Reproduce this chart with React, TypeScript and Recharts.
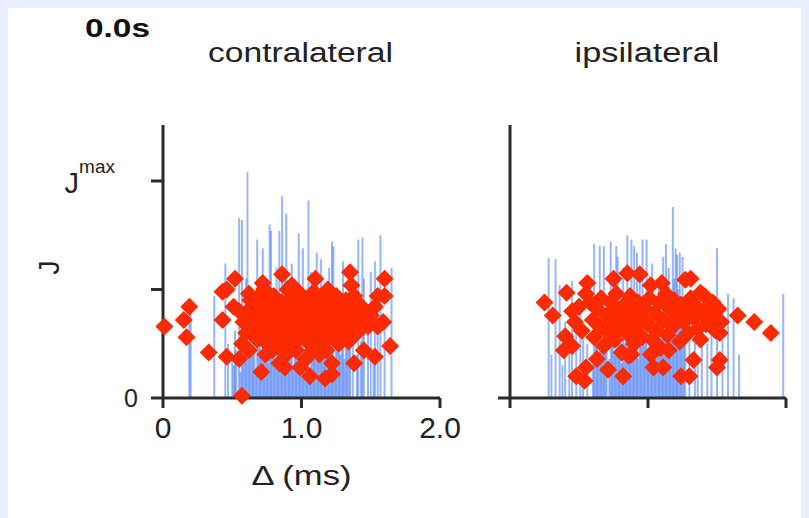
import React from "react";
import { ScatterChart, Scatter, XAxis, YAxis, ErrorBar } from "recharts";

// contralateral: thin blue lines (position, height) and red diamonds
const contraLineX = [
  0.19, 0.2, 0.37, 0.45, 0.47, 0.5, 0.52, 0.55, 0.57, 0.58, 0.6, 0.61, 0.63, 0.65, 0.66, 0.68,
  0.7, 0.72, 0.74, 0.77, 0.78, 0.8, 0.82, 0.84, 0.86, 0.88, 0.89, 0.91, 0.93, 0.95, 0.98, 1.0,
  1.01, 1.03, 1.05, 1.07, 1.09, 1.11, 1.13, 1.14, 1.16, 1.18, 1.2, 1.22, 1.23, 1.25, 1.27, 1.3,
  1.32, 1.34, 1.37, 1.41, 1.44, 1.45, 1.48, 1.5, 1.53, 1.55, 1.57, 1.6, 1.65,
  0.51, 0.53, 0.56, 0.59, 0.62, 0.64, 0.67, 0.69, 0.71, 0.73, 0.75, 0.76, 0.79, 0.81, 0.83, 0.85,
  0.87, 0.9, 0.92, 0.94, 0.96, 0.97, 0.99, 1.02, 1.04, 1.06, 1.08, 1.1, 1.12, 1.15, 1.17, 1.19,
  1.21, 1.24, 1.26, 1.28, 1.29, 1.31, 1.33, 1.35, 1.4, 1.43, 1.52,
];
const contraLineH = [
  0.4, 0.43, 0.47, 0.62, 0.25, 0.2, 0.31, 0.83, 0.82, 0.4, 0.55, 1.04, 0.35, 0.48, 0.28, 0.73,
  0.52, 0.69, 0.38, 0.8, 0.77, 0.45, 0.6, 0.77, 0.93, 0.55, 0.85, 0.33, 0.62, 0.42, 0.76, 0.5,
  0.69, 0.36, 0.91, 0.58, 0.45, 0.67, 0.4, 0.64, 0.52, 0.3, 0.6, 0.72, 0.7, 0.48, 0.35, 0.63,
  0.44, 0.56, 0.4, 0.73, 0.74, 0.55, 0.3, 0.58, 0.63, 0.45, 0.75, 0.35, 0.6,
  0.15, 0.22, 0.12, 0.28, 0.18, 0.24, 0.14, 0.3, 0.2, 0.26, 0.16, 0.33, 0.22, 0.18, 0.29, 0.12,
  0.25, 0.2, 0.3, 0.15, 0.27, 0.21, 0.34, 0.19, 0.28, 0.14, 0.24, 0.31, 0.17, 0.26, 0.2, 0.35,
  0.22, 0.15, 0.28, 0.2, 0.32, 0.18, 0.25, 0.3, 0.2, 0.26, 0.22,
];
const contraDotX = [
  0.01, 0.15, 0.19, 0.17, 0.33, 0.43, 0.46, 0.43, 0.52, 0.51, 0.46, 0.55, 0.57, 0.71, 0.72, 0.73,
  0.86, 0.93, 1.1, 1.35, 1.36, 1.38, 1.6, 1.6, 1.55, 1.53, 1.59, 1.55, 1.64, 1.53, 1.45, 1.38,
  1.22, 1.17, 1.22, 1.18, 1.06, 0.99, 0.88, 0.84, 0.79, 0.62, 0.63,
  0.55, 0.58, 0.6, 0.57, 0.62, 0.64, 0.66, 0.67, 0.68, 0.7, 0.71, 0.72, 0.74, 0.75, 0.76, 0.77,
  0.78, 0.79, 0.8, 0.81, 0.82, 0.83, 0.84, 0.85, 0.86, 0.87, 0.88, 0.89, 0.9, 0.91, 0.92, 0.93,
  0.94, 0.95, 0.96, 0.97, 0.98, 0.99, 1.0, 1.01, 1.02, 1.03, 1.04, 1.05, 1.06, 1.07, 1.08, 1.09,
  1.1, 1.11, 1.12, 1.13, 1.14, 1.15, 1.16, 1.17, 1.18, 1.2, 1.21, 1.22, 1.24, 1.25, 1.26, 1.27,
  1.28, 1.3, 1.31, 1.32, 1.33, 1.34, 1.36, 1.37, 1.39, 1.4, 1.42, 1.44, 0.68, 0.74, 0.9, 1.19,
  0.61, 0.64, 0.97, 1.08, 1.46, 1.48, 1.5,
];
const contraDotY = [
  0.33, 0.36, 0.42, 0.28, 0.21, 0.49, 0.5, 0.36, 0.55, 0.42, 0.19, 0.18, 0.01, 0.12, 0.53, 0.5,
  0.57, 0.52, 0.55, 0.58, 0.52, 0.47, 0.55, 0.47, 0.47, 0.42, 0.35, 0.33, 0.24, 0.19, 0.22, 0.16,
  0.11, 0.09, 0.16, 0.22, 0.1, 0.14, 0.14, 0.16, 0.22, 0.48, 0.45,
  0.4, 0.35, 0.3, 0.25, 0.22, 0.38, 0.43, 0.32, 0.27, 0.4, 0.35, 0.3, 0.45, 0.25, 0.38, 0.33,
  0.42, 0.28, 0.47, 0.36, 0.31, 0.24, 0.4, 0.34, 0.44, 0.29, 0.37, 0.2, 0.41, 0.33, 0.26, 0.46,
  0.38, 0.3, 0.22, 0.42, 0.35, 0.48, 0.28, 0.4, 0.33, 0.18, 0.45, 0.37, 0.25, 0.42, 0.31, 0.49,
  0.36, 0.27, 0.43, 0.2, 0.38, 0.32, 0.46, 0.26, 0.4, 0.34, 0.44, 0.29, 0.38, 0.47, 0.33, 0.25,
  0.41, 0.36, 0.3, 0.45, 0.39, 0.26, 0.42, 0.34, 0.38, 0.3, 0.43, 0.36, 0.46, 0.2, 0.5, 0.5,
  0.4, 0.31, 0.27, 0.22, 0.4, 0.33, 0.38,
];

// ipsilateral
const ipsiLineX = [
  0.28, 0.33, 0.36, 0.4, 0.45, 0.48, 0.51, 0.56, 0.61, 0.63, 0.65, 0.68, 0.7, 0.73, 0.75, 0.77,
  0.78, 0.8, 0.82, 0.85, 0.88, 0.9, 0.92, 0.94, 0.96, 0.99, 1.01, 1.03, 1.05, 1.08, 1.11, 1.13,
  1.15, 1.18, 1.2, 1.21, 1.23, 1.25, 1.27, 1.3, 1.34, 1.39, 1.43, 1.5, 1.54, 1.58, 1.62, 1.98,
  0.6, 0.62, 0.64, 0.66, 0.67, 0.69, 0.72, 0.74, 0.76, 0.79, 0.81, 0.83, 0.84, 0.86, 0.87, 0.89,
  0.91, 0.93, 0.95, 0.97, 0.98, 1.0, 1.02, 1.04, 1.06, 1.07, 1.09, 1.1, 1.12, 1.14, 1.16, 1.17,
  1.19, 1.22, 1.24, 1.26, 0.3, 0.38, 0.43, 0.53, 1.36, 1.46, 1.66,
];
const ipsiLineH = [
  0.645, 0.64, 0.52, 0.35, 0.54, 0.3, 0.43, 0.25, 0.71, 0.4, 0.7, 0.7, 0.45, 0.72, 0.55, 0.7,
  0.65, 0.5, 0.6, 0.75, 0.73, 0.7, 0.67, 0.55, 0.73, 0.73, 0.45, 0.62, 0.4, 0.55, 0.65, 0.71,
  0.6, 0.88, 0.69, 0.66, 0.67, 0.65, 0.45, 0.38, 0.46, 0.3, 0.25, 0.69, 0.35, 0.48, 0.46, 0.48,
  0.2, 0.3, 0.15, 0.27, 0.22, 0.33, 0.18, 0.28, 0.2, 0.3, 0.16, 0.25, 0.35, 0.2, 0.3, 0.22,
  0.34, 0.18, 0.28, 0.24, 0.38, 0.2, 0.3, 0.16, 0.28, 0.35, 0.22, 0.3, 0.4, 0.5, 0.45, 0.3,
  0.55, 0.5, 0.35, 0.25, 0.2, 0.15, 0.22, 0.3, 0.2, 0.3, 0.2,
];
const ipsiDotX = [
  0.25, 0.31, 0.41, 0.56, 0.4, 0.39, 0.45, 0.48, 0.54, 0.55, 0.75, 0.85, 0.94, 0.82, 0.63, 0.71,
  1.1, 1.02, 1.27, 1.31, 1.38, 1.47, 1.65, 1.77, 1.89, 1.52, 1.5, 1.33, 1.24, 1.3, 1.04, 1.11,
  1.02, 0.86, 1.44, 1.52,
  0.45, 0.47, 0.5, 0.52, 0.58, 0.6, 0.61, 0.63, 0.65, 0.66, 0.68, 0.7, 0.71, 0.73, 0.74, 0.76,
  0.77, 0.78, 0.8, 0.81, 0.83, 0.84, 0.86, 0.87, 0.89, 0.9, 0.92, 0.93, 0.95, 0.96, 0.98, 1.0,
  1.01, 1.03, 1.05, 1.06, 1.08, 1.09, 1.11, 1.13, 1.14, 1.16, 1.18, 1.19, 1.21, 1.23, 1.24, 1.26,
  1.28, 1.29, 1.31, 1.33, 1.35, 1.36, 1.38, 1.4, 1.42, 1.45, 1.47, 1.49, 1.51, 1.53, 0.55, 0.88,
  1.15, 1.41,
];
const ipsiDotY = [
  0.44, 0.38, 0.485, 0.53, 0.285, 0.22, 0.24, 0.1, 0.08, 0.14, 0.55, 0.575, 0.57, 0.1, 0.18, 0.13,
  0.53, 0.52, 0.545, 0.55, 0.485, 0.44, 0.38, 0.35, 0.3, 0.175, 0.14, 0.175, 0.1, 0.1, 0.14, 0.14,
  0.2, 0.195, 0.36, 0.3,
  0.4, 0.35, 0.42, 0.31, 0.44, 0.36, 0.28, 0.41, 0.33, 0.46, 0.24, 0.38, 0.3, 0.44, 0.35, 0.27,
  0.48, 0.4, 0.32, 0.21, 0.43, 0.36, 0.29, 0.47, 0.39, 0.25, 0.33, 0.44, 0.37, 0.28, 0.41, 0.34,
  0.46, 0.27, 0.39, 0.31, 0.44, 0.23, 0.36, 0.48, 0.29, 0.41, 0.33, 0.45, 0.38, 0.26, 0.43, 0.35,
  0.4, 0.3, 0.46, 0.37, 0.42, 0.32, 0.27, 0.4, 0.34, 0.43, 0.37, 0.31, 0.41, 0.35, 0.48, 0.2,
  0.22, 0.47,
];

const xTicks = [0, 1, 2];
const yTicks = [0, 0.5, 1];
const yMax = 1.258;

const RED = "#fb2a00";
const BLUE = "#2f6cf6";
const AXIS = "#2a2a2a";
const FONT = '"Liberation Sans", Arial, Helvetica, sans-serif';

const toLines = (xs: number[], hs: number[]) =>
  xs.map((x, i) => ({ x, y: hs[i], err: [hs[i], 0] }));
const toDots = (xs: number[], ys: number[]) => xs.map((x, i) => ({ x, y: ys[i] }));

const contraLines = toLines(contraLineX, contraLineH);
const contraDots = toDots(contraDotX, contraDotY);
const ipsiLines = toLines(ipsiLineX, ipsiLineH);
const ipsiDots = toDots(ipsiDotX, ipsiDotY);

const NoMark = () => <g />;

const Diamond = (p: any) => {
  const { cx, cy } = p;
  const r = 9;
  return (
    <path
      d={`M${cx},${cy - r}L${cx + r},${cy}L${cx},${cy + r}L${cx - r},${cy}Z`}
      fill={RED}
    />
  );
};

const JTick = (p: any) => {
  const { x, y, payload } = p;
  if (payload.value === 0)
    return (
      <text x={x} y={y + 9} textAnchor="end" fontSize={25} fill="#222">
        0
      </text>
    );
  if (payload.value === 1)
    return (
      <text x={x - 23} y={y + 12} textAnchor="end" fontSize={29} fill="#222">
        J
        <tspan dy={-20} fontSize={19}>
          max
        </tspan>
      </text>
    );
  return <g />;
};

const axisLine = { stroke: AXIS, strokeWidth: 3 };

const Panel = ({ lines, dots, left }: { lines: any[]; dots: any[]; left: boolean }) => (
  <ScatterChart
    width={left ? 460 : 341}
    height={510}
    margin={left ? { top: 117, right: 28, bottom: 30, left: 95 } : { top: 117, right: 23, bottom: 30, left: 22 }}
  >
    <XAxis
      type="number"
      dataKey="x"
      domain={[0, 2]}
      ticks={xTicks}
      height={90}
      axisLine={axisLine}
      tickLine={axisLine}
      tickSize={10}
      tickMargin={9}
      tick={left ? { fontSize: 30, fill: "#222" } : NoMark}
      tickFormatter={(v: number) => (v === 0 ? "0" : v.toFixed(1))}
      label={
        left
          ? {
              content: (lp: any) => {
                const vb = lp.viewBox || { x: 155, y: 390, width: 277 };
                return (
                  <text
                    x={vb.x + vb.width / 2}
                    y={vb.y + 87}
                    textAnchor="middle"
                    fontSize={27}
                    fill="#222"
                    textLength={100}
                    lengthAdjust="spacingAndGlyphs"
                  >
                    Δ (ms)
                  </text>
                );
              },
            }
          : undefined
      }
    />
    <YAxis
      type="number"
      dataKey="y"
      domain={[0, yMax]}
      ticks={left ? yTicks : [0]}
      width={left ? 60 : 20}
      axisLine={axisLine}
      tickLine={axisLine}
      tickSize={12}
      tickMargin={13}
      tick={left ? <JTick /> : NoMark}
      label={
        left
          ? {
              content: (lp: any) => {
                const vb = lp.viewBox || { x: 95, y: 117, height: 273 };
                const cx = vb.x - 54;
                const cy = vb.y + vb.height / 2 + 6;
                return (
                  <text
                    x={cx}
                    y={cy}
                    transform={`rotate(-90 ${cx} ${cy})`}
                    textAnchor="middle"
                    dominantBaseline="central"
                    fontSize={29}
                    fill="#222"
                  >
                    J
                  </text>
                );
              },
            }
          : undefined
      }
    />
    <Scatter data={lines} shape={NoMark} isAnimationActive={false}>
      <ErrorBar
        dataKey="err"
        direction="y"
        width={0}
        stroke={BLUE}
        strokeOpacity={0.5}
        strokeWidth={2}
        isAnimationActive={false}
      />
    </Scatter>
    <Scatter data={dots} shape={Diamond} isAnimationActive={false} />
  </ScatterChart>
);

export default function App() {
  return (
    <>
      <div style={{ position: "fixed", inset: 0, background: "#e8eefb", zIndex: -1 }} />
      <div
        style={{
          position: "relative",
          width: 801,
          height: 510,
          background: "#fff",
          fontFamily: FONT,
          overflow: "hidden",
        }}
      >
        <div style={{ position: "absolute", left: 0, top: 0 }}>
          <Panel lines={contraLines} dots={contraDots} left={true} />
        </div>
        <div style={{ position: "absolute", left: 460, top: 0 }}>
          <Panel lines={ipsiLines} dots={ipsiDots} left={false} />
        </div>
        <svg
          width={801}
          height={80}
          style={{ position: "absolute", left: 0, top: 0, pointerEvents: "none" }}
        >
          <text x={77} y={29} fontSize={26} fontWeight="bold" fill="#111" textLength={65} lengthAdjust="spacingAndGlyphs">
            0.0s
          </text>
          <text x={292.5} y={54} fontSize={27} textAnchor="middle" fill="#222" textLength={185} lengthAdjust="spacingAndGlyphs">
            contralateral
          </text>
          <text x={639} y={54} fontSize={27} textAnchor="middle" fill="#222" textLength={145} lengthAdjust="spacingAndGlyphs">
            ipsilateral
          </text>
        </svg>
      </div>
    </>
  );
}
